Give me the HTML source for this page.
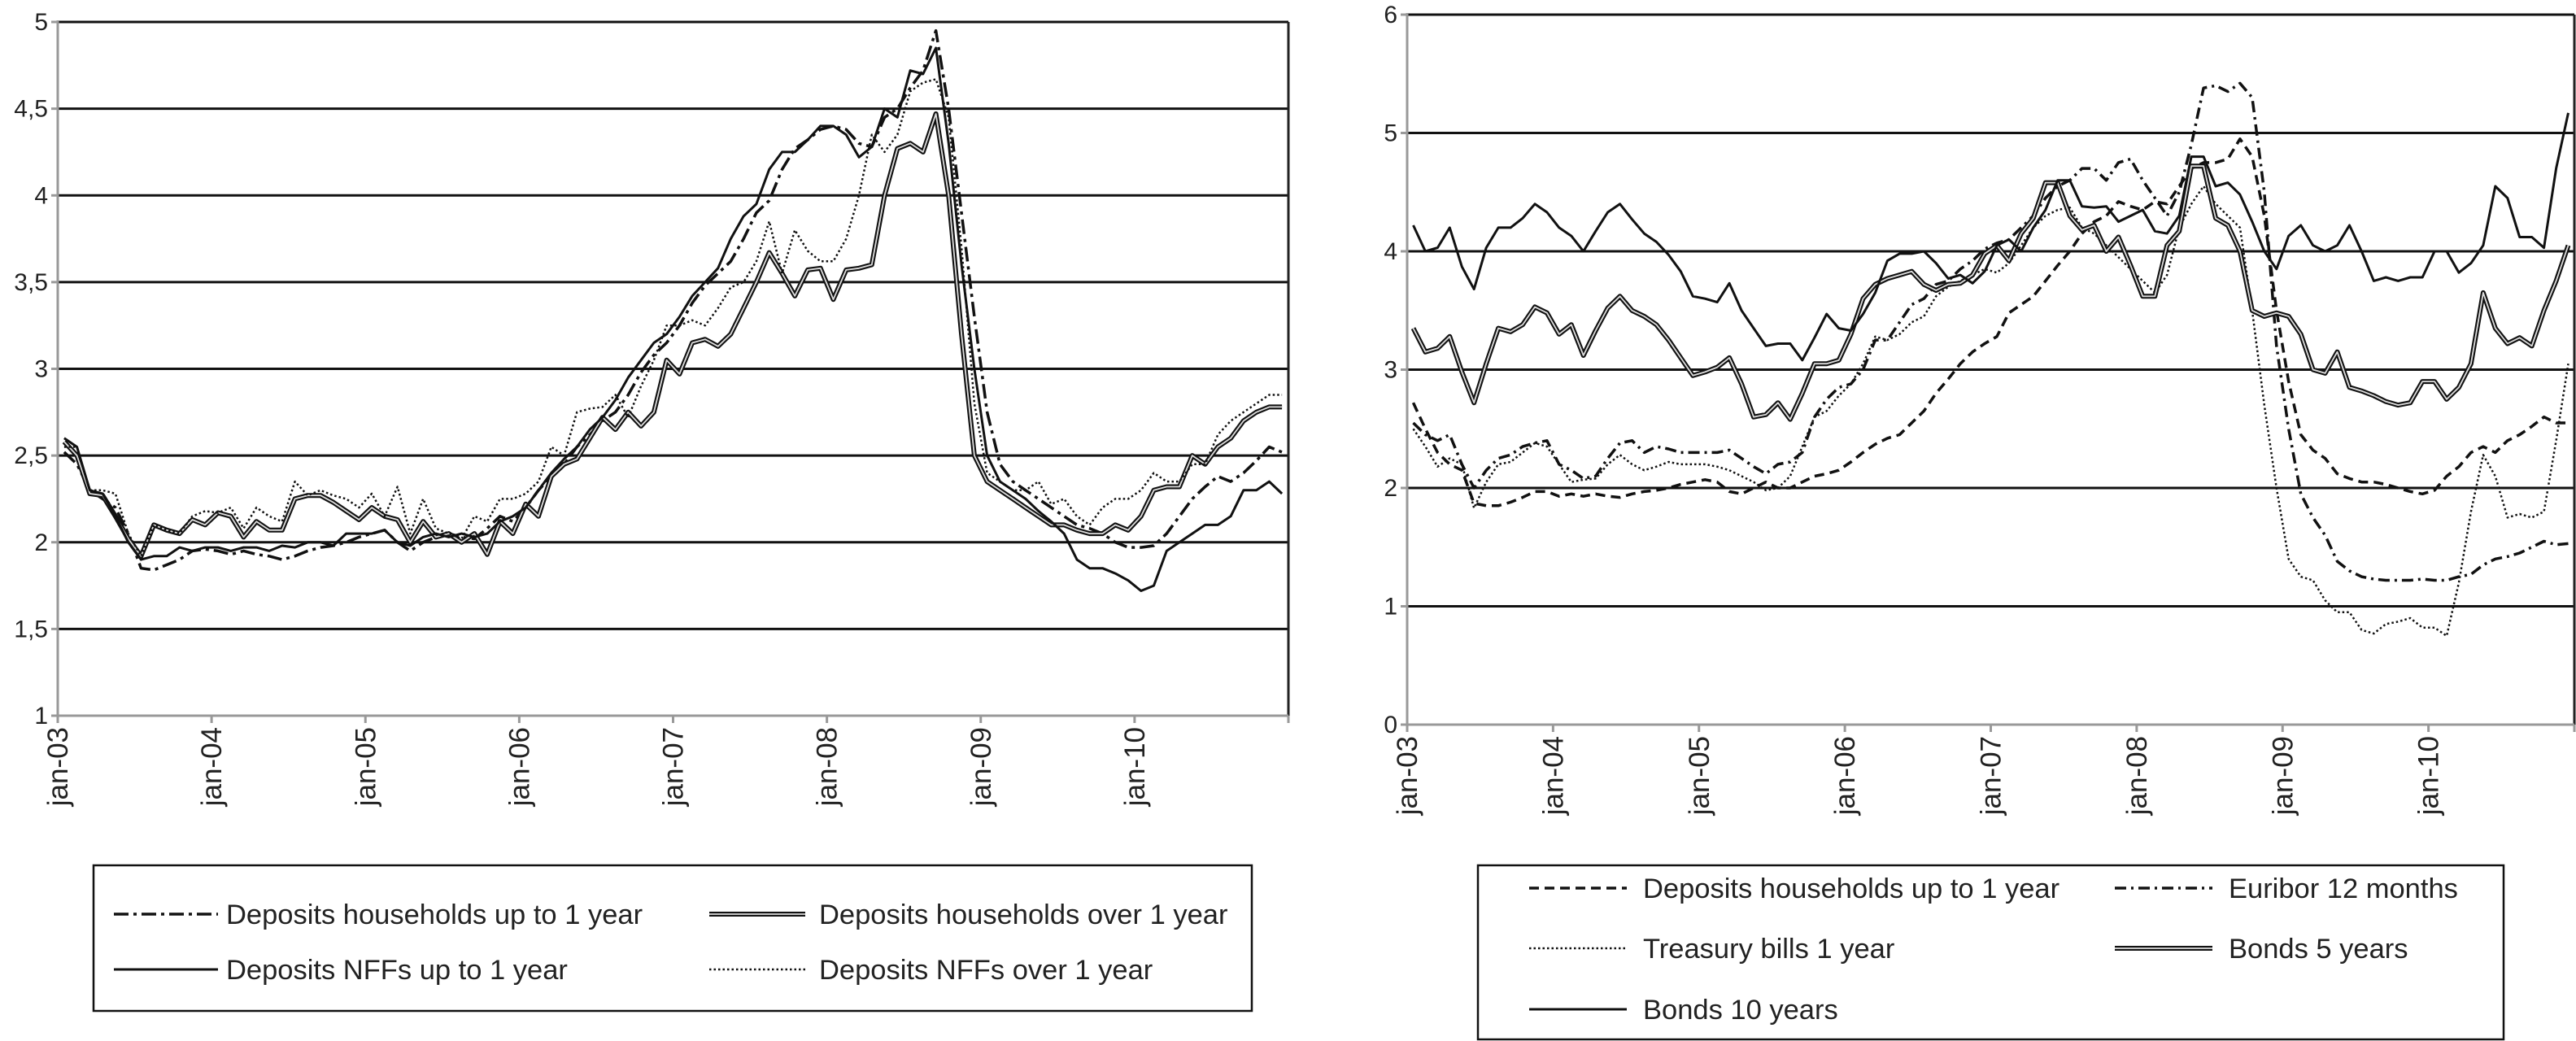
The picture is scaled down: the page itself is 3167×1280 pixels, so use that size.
<!DOCTYPE html>
<html><head><meta charset="utf-8"><style>
html,body{margin:0;padding:0;background:#fff;}
svg{display:block;font-family:"Liberation Sans",sans-serif;}
</style></head><body>
<svg id="chart" width="3167" height="1280" viewBox="0 0 3167 1280" xmlns="http://www.w3.org/2000/svg"></svg>
<script>
const monthLabels=["jan-03","jan-04","jan-05","jan-06","jan-07","jan-08","jan-09","jan-10"];
// Left chart series (monthly Jan-03..Dec-10)
const leftHHUp=[2.52,2.45,2.3,2.25,2.2,2.05,1.85,1.84,1.87,1.9,1.95,1.96, 1.95,1.93,1.95,1.93,1.92,1.9,1.92,1.95,1.97,1.98,2.0,2.03, 2.05,2.07,2.0,1.95,2.0,2.03,2.05,2.03,2.02,2.08,2.15,2.12, 2.2,2.3,2.38,2.45,2.55,2.62,2.7,2.75,2.85,2.98,3.08,3.15, 3.25,3.38,3.48,3.55,3.62,3.75,3.9,3.97,4.15,4.27,4.32,4.38, 4.4,4.38,4.3,4.28,4.45,4.5,4.62,4.72,4.95,4.5,3.9,3.3, 2.75,2.45,2.35,2.3,2.25,2.2,2.15,2.1,2.08,2.05,2.0,1.97, 1.97,1.98,2.05,2.15,2.25,2.32,2.38,2.35,2.4,2.47,2.55,2.52];
const leftHHOver=[2.58,2.5,2.28,2.27,2.15,2.02,1.92,2.1,2.07,2.05,2.13,2.1, 2.17,2.15,2.03,2.12,2.07,2.07,2.25,2.27,2.27,2.23,2.18,2.13, 2.2,2.15,2.13,2.0,2.12,2.03,2.05,2.0,2.05,1.93,2.12,2.05, 2.22,2.15,2.38,2.45,2.48,2.6,2.72,2.65,2.75,2.67,2.75,3.05, 2.97,3.15,3.17,3.13,3.2,3.35,3.5,3.67,3.55,3.42,3.57,3.58, 3.4,3.57,3.58,3.6,4.0,4.27,4.3,4.25,4.47,4.0,3.2,2.5, 2.35,2.3,2.25,2.2,2.15,2.1,2.1,2.07,2.05,2.05,2.1,2.07, 2.15,2.3,2.32,2.32,2.5,2.45,2.55,2.6,2.7,2.75,2.78,2.78];
const leftNFFUp=[2.6,2.55,2.3,2.28,2.15,2.0,1.9,1.92,1.92,1.97,1.95,1.97, 1.97,1.95,1.97,1.97,1.95,1.98,1.97,2.0,2.0,1.98,2.05,2.05, 2.05,2.07,2.0,1.98,2.03,2.05,2.03,2.05,2.03,2.05,2.12,2.15, 2.2,2.3,2.4,2.48,2.55,2.65,2.72,2.82,2.95,3.05,3.15,3.2, 3.3,3.42,3.5,3.58,3.75,3.88,3.95,4.15,4.25,4.25,4.32,4.4, 4.4,4.35,4.22,4.28,4.5,4.45,4.72,4.7,4.85,4.3,3.6,3.0, 2.5,2.35,2.3,2.25,2.18,2.12,2.05,1.9,1.85,1.85,1.82,1.78, 1.72,1.75,1.95,2.0,2.05,2.1,2.1,2.15,2.3,2.3,2.35,2.28];
const leftNFFOver=[2.55,2.55,2.3,2.3,2.28,2.05,1.92,2.1,2.07,2.05,2.15,2.18, 2.17,2.2,2.08,2.2,2.15,2.12,2.35,2.27,2.3,2.27,2.25,2.2, 2.28,2.15,2.32,2.05,2.25,2.08,2.05,2.02,2.15,2.12,2.25,2.25, 2.28,2.35,2.55,2.5,2.75,2.77,2.78,2.85,2.72,2.9,3.05,3.25, 3.25,3.28,3.25,3.35,3.47,3.5,3.62,3.85,3.55,3.8,3.68,3.62, 3.62,3.75,4.0,4.35,4.25,4.35,4.6,4.65,4.67,4.45,3.7,2.8, 2.4,2.35,2.3,2.3,2.35,2.22,2.25,2.15,2.1,2.2,2.25,2.25, 2.3,2.4,2.35,2.35,2.45,2.45,2.62,2.7,2.75,2.8,2.85,2.85];
const leftTicks=[1,1.5,2,2.5,3,3.5,4,4.5,5];
const leftTickLabels=["1","1,5","2","2,5","3","3,5","4","4,5","5"];
// Right chart series
const rightHH=[2.72,2.5,2.3,2.2,2.15,1.87,1.85,1.85,1.88,1.92,1.97,1.97, 1.93,1.95,1.93,1.95,1.93,1.92,1.95,1.97,1.98,2.0,2.03,2.05, 2.07,2.05,1.97,1.95,2.0,2.05,2.0,2.0,2.05,2.1,2.12,2.15, 2.22,2.3,2.37,2.42,2.45,2.55,2.65,2.8,2.92,3.05,3.15,3.22, 3.28,3.48,3.55,3.62,3.75,3.88,4.0,4.15,4.25,4.3,4.42,4.38, 4.35,4.42,4.4,4.55,4.7,4.75,4.75,4.78,4.95,4.8,4.3,3.5, 2.9,2.45,2.32,2.25,2.12,2.08,2.05,2.05,2.03,2.0,1.97,1.95, 1.98,2.1,2.18,2.3,2.35,2.3,2.4,2.45,2.52,2.6,2.55,2.55];
const rightEuribor=[2.55,2.45,2.4,2.45,2.2,2.0,2.15,2.25,2.28,2.35,2.38,2.4, 2.2,2.15,2.08,2.1,2.25,2.38,2.4,2.3,2.35,2.33,2.3,2.3, 2.3,2.3,2.32,2.25,2.18,2.12,2.2,2.22,2.3,2.6,2.75,2.85, 2.88,3.0,3.25,3.25,3.4,3.55,3.6,3.72,3.75,3.85,3.92,4.02, 4.07,4.1,4.2,4.3,4.45,4.55,4.6,4.7,4.7,4.6,4.75,4.78, 4.6,4.45,4.3,4.5,4.9,5.38,5.4,5.35,5.42,5.3,4.5,3.2, 2.5,1.95,1.75,1.6,1.38,1.3,1.25,1.23,1.22,1.22,1.22,1.23, 1.22,1.22,1.25,1.27,1.35,1.4,1.42,1.45,1.5,1.55,1.52,1.53];
const rightTBills=[2.5,2.35,2.18,2.25,2.2,1.83,2.05,2.2,2.22,2.3,2.38,2.35, 2.2,2.05,2.07,2.08,2.2,2.28,2.2,2.15,2.18,2.22,2.2,2.2, 2.2,2.18,2.15,2.1,2.05,1.98,2.0,2.1,2.35,2.6,2.65,2.78, 2.88,3.05,3.28,3.25,3.3,3.4,3.45,3.62,3.7,3.75,3.8,3.85, 3.82,3.9,4.05,4.2,4.3,4.35,4.37,4.2,4.15,4.05,3.95,3.85, 3.75,3.65,3.8,4.2,4.4,4.55,4.4,4.3,4.2,3.5,2.7,2.0, 1.4,1.25,1.22,1.05,0.95,0.95,0.8,0.77,0.85,0.87,0.9,0.82, 0.82,0.75,1.2,1.8,2.28,2.1,1.75,1.78,1.75,1.8,2.4,3.05];
const rightBonds5=[3.35,3.15,3.18,3.28,2.98,2.72,3.05,3.35,3.32,3.38,3.53,3.48, 3.3,3.38,3.12,3.33,3.52,3.62,3.5,3.45,3.38,3.25,3.1,2.95, 2.98,3.02,3.1,2.88,2.6,2.62,2.72,2.58,2.8,3.05,3.05,3.08, 3.3,3.6,3.72,3.77,3.8,3.83,3.72,3.67,3.72,3.73,3.8,3.98, 4.05,3.92,4.15,4.28,4.58,4.58,4.3,4.18,4.22,4.0,4.12,3.88, 3.62,3.62,4.05,4.17,4.72,4.72,4.28,4.22,4.0,3.5,3.45,3.48, 3.45,3.3,3.0,2.97,3.15,2.85,2.82,2.78,2.73,2.7,2.72,2.9, 2.9,2.75,2.85,3.05,3.65,3.35,3.22,3.27,3.2,3.5,3.75,4.05];
const rightBonds10=[4.22,4.0,4.03,4.2,3.87,3.68,4.03,4.2,4.2,4.28,4.4,4.33, 4.2,4.13,4.0,4.17,4.33,4.4,4.27,4.15,4.08,3.97,3.83,3.62, 3.6,3.57,3.73,3.5,3.35,3.2,3.22,3.22,3.08,3.27,3.47,3.35, 3.33,3.47,3.65,3.92,3.98,3.98,4.0,3.9,3.77,3.8,3.73,3.83, 4.05,4.1,4.0,4.2,4.35,4.6,4.6,4.38,4.37,4.38,4.25,4.3, 4.35,4.17,4.15,4.3,4.8,4.8,4.55,4.58,4.48,4.25,4.0,3.85, 4.13,4.22,4.05,4.0,4.05,4.22,4.0,3.75,3.78,3.75,3.78,3.78, 4.0,4.0,3.82,3.9,4.05,4.55,4.45,4.12,4.12,4.03,4.7,5.17];
const rightTicks=[0,1,2,3,4,5,6];
const rightTickLabels=["0","1","2","3","4","5","6"];

const NS="http://www.w3.org/2000/svg";
const svg=document.getElementById('chart');
function mk(tag,attrs,parent){const e=document.createElementNS(NS,tag);for(const k in attrs)e.setAttribute(k,attrs[k]);(parent||svg).appendChild(e);return e;}

function drawChart(cfg){
  const g=mk('g',{});
  
  
  const xs=i=>cfg.x0+(i+0.5)*(cfg.x1-cfg.x0)/96;
  const ys=v=>cfg.yb-(v-cfg.vmin)*(cfg.yb-cfg.yt)/(cfg.vmax-cfg.vmin);
  cfg.ticks.forEach((t,i)=>{
    const y=ys(t);
    if(t!==cfg.vmin){
      const l=mk('line',{x1:cfg.x0,x2:cfg.x1,y1:y,y2:y,stroke:'#111','stroke-width':3},g);
      
      
    }
    const tk=mk('line',{x1:cfg.x0-8,x2:cfg.x0,y1:y,y2:y,stroke:'#999','stroke-width':3},g);
    
    
    const tx=mk('text',{x:cfg.x0-12,y:y+10,'text-anchor':'end','font-size':30,fill:'#222'},g);
    tx.textContent=cfg.tickLabels[i];
    
    
  });
  const fr=mk('line',{x1:cfg.x1,x2:cfg.x1,y1:cfg.yt,y2:cfg.yb,stroke:'#222','stroke-width':3},g);
  
  
  const ya=mk('line',{x1:cfg.x0,x2:cfg.x0,y1:cfg.yt-2,y2:cfg.yb,stroke:'#999','stroke-width':3},g);
  
  
  const xa=mk('line',{x1:cfg.x0,x2:cfg.x1,y1:cfg.yb,y2:cfg.yb,stroke:'#999','stroke-width':3},g);
  
  
  monthLabels.forEach((lab,k)=>{
    const x=cfg.x0+k*12*(cfg.x1-cfg.x0)/96;
    const tk=mk('line',{x1:x,x2:x,y1:cfg.yb,y2:cfg.yb+9,stroke:'#999','stroke-width':3},g);
    
    
    const t=mk('text',{x:0,y:0,'text-anchor':'end','font-size':35,fill:'#222',transform:`translate(${x+12},${cfg.yb+14}) rotate(-90)`},g);
    t.textContent=lab;
    
    
  });
  const lastTk=mk('line',{x1:cfg.x1,x2:cfg.x1,y1:cfg.yb,y2:cfg.yb+9,stroke:'#999','stroke-width':3},g);
  
  
  cfg.series.forEach(s=>{
    const pts=s.data.map((v,i)=>xs(i).toFixed(1)+','+ys(v).toFixed(1)).join(' ');
    if(s.style==='double'){
      const a=mk('polyline',{points:pts,fill:'none',stroke:'#111','stroke-width':6,'stroke-linejoin':'round'},g);
      
      
      const b=mk('polyline',{points:pts,fill:'none',stroke:'#ddd','stroke-width':1.8,'stroke-linejoin':'round'},g);
      
      
    } else {
      const a=mk('polyline',{points:pts,fill:'none',stroke:'#111','stroke-width':s.w||3,'stroke-dasharray':s.dash||'none','stroke-linejoin':'round'},g);
      
      
    }
  });
  const L=cfg.legend;
  const box=mk('rect',{x:L.x,y:L.y,width:L.w,height:L.h,fill:'#fff',stroke:'#111','stroke-width':2.5},g);
  
  
  L.items.forEach(it=>{
    const s=cfg.series[it.i];
    if(s.style==='double'){
      const a=mk('line',{x1:it.lx,x2:it.lx+it.lw,y1:it.y,y2:it.y,stroke:'#111','stroke-width':6},g);
      
      
      const b=mk('line',{x1:it.lx,x2:it.lx+it.lw,y1:it.y,y2:it.y,stroke:'#ddd','stroke-width':1.8},g);
      
      
    } else {
      const a=mk('line',{x1:it.lx,x2:it.lx+it.lw,y1:it.y,y2:it.y,stroke:'#111','stroke-width':s.w||3,'stroke-dasharray':s.dash||'none'},g);
      
      
    }
    const t=mk('text',{x:it.tx,y:it.y+12,'font-size':34.5,fill:'#222'},g);
    t.textContent=s.label;
    
    
  });
}

drawChart({name:'left-chart',x0:71,x1:1584,yt:27,yb:880,vmin:1,vmax:5,ticks:leftTicks,tickLabels:leftTickLabels,
  series:[
    {name:'deposits-households-up-to-1y',label:'Deposits households up to 1 year',data:leftHHUp,dash:'18 6 4 6',w:3.5},
    {name:'deposits-households-over-1y',label:'Deposits households over 1 year',data:leftHHOver,style:'double'},
    {name:'deposits-nffs-up-to-1y',label:'Deposits NFFs up to 1 year',data:leftNFFUp,w:3},
    {name:'deposits-nffs-over-1y',label:'Deposits NFFs over 1 year',data:leftNFFOver,dash:'2.5 3',w:2.5}
  ],
  legend:{x:115,y:1064,w:1424,h:179,items:[
    {i:0,lx:140,lw:128,tx:278,y:1124},{i:1,lx:872,lw:118,tx:1007,y:1124},
    {i:2,lx:140,lw:128,tx:278,y:1192},{i:3,lx:872,lw:118,tx:1007,y:1192}]}
});
drawChart({name:'right-chart',x0:1730,x1:3165,yt:18,yb:891,vmin:0,vmax:6,ticks:rightTicks,tickLabels:rightTickLabels,
  series:[
    {name:'deposits-households-up-to-1y',label:'Deposits households up to 1 year',data:rightHH,dash:'12 7',w:3.5},
    {name:'euribor-12-months',label:'Euribor 12 months',data:rightEuribor,dash:'14 6 3 6',w:3.5},
    {name:'treasury-bills-1y',label:'Treasury bills 1 year',data:rightTBills,dash:'2.5 3',w:2.5},
    {name:'bonds-5y',label:'Bonds 5 years',data:rightBonds5,style:'double'},
    {name:'bonds-10y',label:'Bonds 10 years',data:rightBonds10,w:3}
  ],
  legend:{x:1817,y:1064,w:1261,h:214,items:[
    {i:0,lx:1880,lw:120,tx:2020,y:1092},{i:1,lx:2600,lw:120,tx:2740,y:1092},
    {i:2,lx:1880,lw:120,tx:2020,y:1166},{i:3,lx:2600,lw:120,tx:2740,y:1166},
    {i:4,lx:1880,lw:120,tx:2020,y:1241}]}
});
</script>
</body></html>
